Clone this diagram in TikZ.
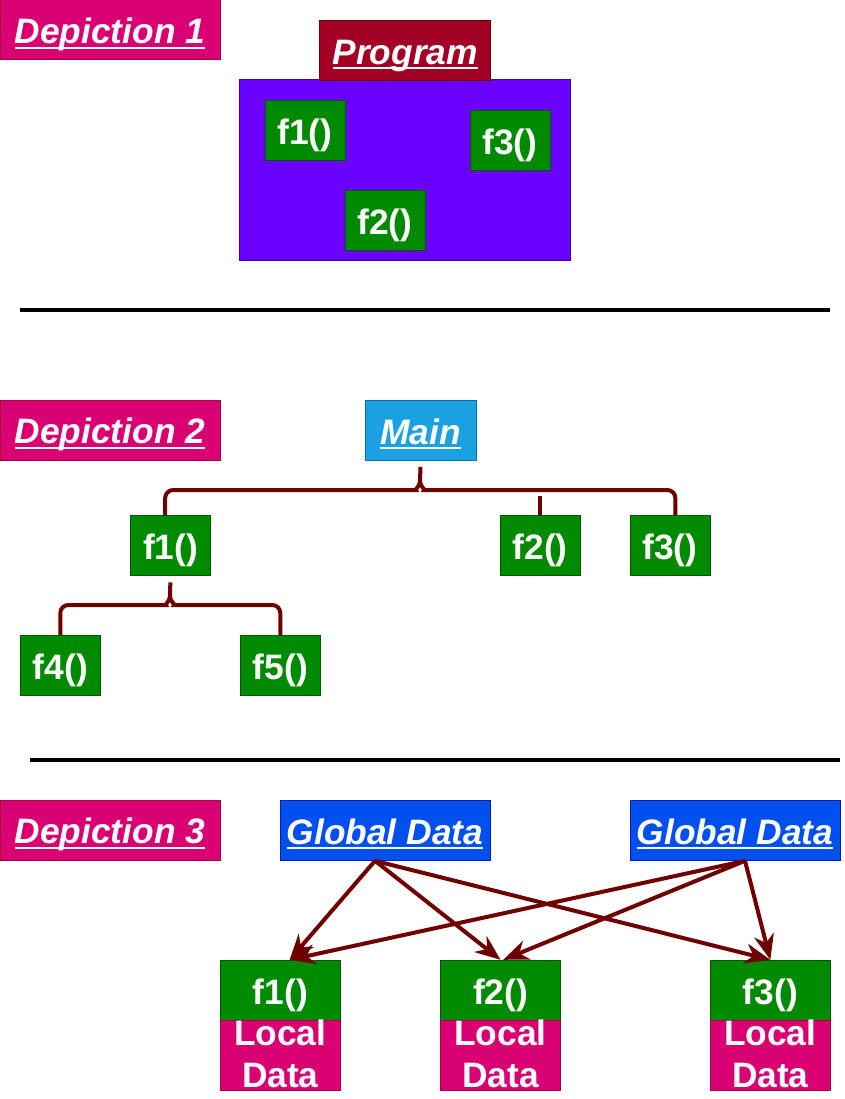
\documentclass[tikz,border=0pt]{standalone}
\usepackage{fontspec}
\setmainfont{Liberation Sans}
\usetikzlibrary{arrows.meta}
\definecolor{tagfill}{HTML}{D80073}
\definecolor{tagline}{HTML}{A50040}
\definecolor{progfill}{HTML}{A20025}
\definecolor{progline}{HTML}{6F0000}
\definecolor{areafill}{HTML}{6A00FF}
\definecolor{arealine}{HTML}{3700CC}
\definecolor{funcfill}{HTML}{008A00}
\definecolor{funcline}{HTML}{005700}
\definecolor{mainfill}{HTML}{1BA1E2}
\definecolor{mainline}{HTML}{006EAF}
\definecolor{globfill}{HTML}{0050EF}
\definecolor{globline}{HTML}{001DBC}
\definecolor{wirecol}{HTML}{6F0000}
\newcommand{\ulbar}[1]{\setbox0\hbox{#1}\rlap{\vrule height -2.2pt depth 3.8pt width \wd0}\box0}
\newcommand{\localtext}{\smash{\raisebox{7.7pt}{\begin{tabular}[t]{@{}c@{}}Local\\Data\end{tabular}}}}

\begin{document}
\begin{tikzpicture}[x=0.75pt,y=-0.75pt,
  every node/.style={inner sep=0pt,text=white,line width=0.75pt,font=\bfseries\fontsize{26.5}{32}\selectfont},
  box/.style={text height=26pt,text depth=5.2pt,minimum height=45pt},
  slanted/.style={box,font=\bfseries\itshape\fontsize{26.5}{32}\selectfont},
  tag/.style={slanted,fill=tagfill,draw=tagline,minimum width=165pt},
  prog/.style={slanted,fill=progfill,draw=progline,minimum width=128pt},
  mainbox/.style={slanted,fill=mainfill,draw=mainline,minimum width=83pt},
  glob/.style={slanted,fill=globfill,draw=globline,minimum width=157.5pt},
  area/.style={fill=areafill,draw=arealine,minimum width=248pt,minimum height=135.5pt},
  func/.style={box,fill=funcfill,draw=funcline,minimum width=60pt},
  widefunc/.style={func,minimum width=90pt},
  local/.style={fill=tagfill,draw=tagline,minimum width=90pt,minimum height=52.5pt},
  wire/.style={draw=wirecol,line width=3pt},
  flow/.style={wire,-{Stealth[length=19pt,width=15pt,inset=6pt]}},
  sep/.style={draw=black,line width=3pt}]
  \useasboundingbox (0,0) rectangle (844,1099);

  \node[tag] (dep1) at (110,30) {\ulbar{Depiction 1}};
  \node[area] (area) at (405.3,170.3) {};
  \node[prog] (prog) at (405.3,50.3) {\ulbar{Program}};
  \node[func] (pf1) at (305,130.3) {f1()};
  \node[func] (pf3) at (510,140.3) {f3()};
  \node[func] (pf2) at (385,220.3) {f2()};

  \draw[sep] (20,310) -- (830,310);

  \node[tag] (dep2) at (110,430) {\ulbar{Depiction 2}};
  \node[mainbox] (main) at (420.7,430.3) {\ulbar{Main}};
  \node[func] (tf1) at (170.5,545.3) {f1()};
  \node[func] (tf2) at (540.2,545.3) {f2()};
  \node[func] (tf3) at (670,545.3) {f3()};
  \node[func] (tf4) at (60.3,665.3) {f4()};
  \node[func] (tf5) at (280.3,665.3) {f5()};
  \coordinate (brace1) at (420,490);
  \coordinate (brace2) at (170,605);
  \coordinate (f2tick) at (540.2,496);
  \draw[wire,shorten >=4.5pt] ([xshift=-4pt]tf1.north) [rounded corners=6pt] |- ([xshift=-9pt]brace1)
    [sharp corners] to[out=0,in=-90] ++(12,-9) -- (main.south);
  \draw[wire] ([xshift=4pt]tf3.north) [rounded corners=6pt] |- ([xshift=9pt]brace1)
    [sharp corners] to[out=180,in=-90] ++(-12,-9);
  \draw[wire] (f2tick) -- (tf2.north);
  \draw[wire,shorten >=5pt] (tf4.north) [rounded corners=6pt] |- ([xshift=-9pt]brace2)
    [sharp corners] to[out=0,in=-90] ++(12,-9) -- (tf1.south);
  \draw[wire] (tf5.north) [rounded corners=6pt] |- ([xshift=9pt]brace2)
    [sharp corners] to[out=180,in=-90] ++(-12,-9);

  \draw[sep] (30,760) -- (840,760);

  \node[tag] (dep3) at (110,830) {\ulbar{Depiction 3}};
  \node[glob] (ga1) at (385,830.3) {\ulbar{Global Data}};
  \node[glob] (ga2) at (735,830.3) {\ulbar{Global Data}};
  \node[widefunc] (cf1) at (280.3,990.3) {f1()};
  \node[widefunc] (cf2) at (500.5,990.3) {f2()};
  \node[widefunc] (cf3) at (770.3,990.3) {f3()};
  \node[local] (ld1) at (280.3,1055.3) {\localtext};
  \node[local] (ld2) at (500.5,1055.3) {\localtext};
  \node[local] (ld3) at (770.3,1055.3) {\localtext};
  \draw[flow] ([xshift=-7.5pt]ga1.south) -- ([xshift=7pt]cf1.north);
  \draw[flow] ([xshift=-7.5pt]ga1.south) -- (cf2.north);
  \draw[flow] ([xshift=-7.5pt]ga1.south) -- (cf3.north);
  \draw[flow] ([xshift=7.5pt]ga2.south) -- ([xshift=7pt]cf1.north);
  \draw[flow] ([xshift=7.5pt]ga2.south) -- ([xshift=2pt]cf2.north);
  \draw[flow] ([xshift=7.5pt]ga2.south) -- (cf3.north);
\end{tikzpicture}
\end{document}
